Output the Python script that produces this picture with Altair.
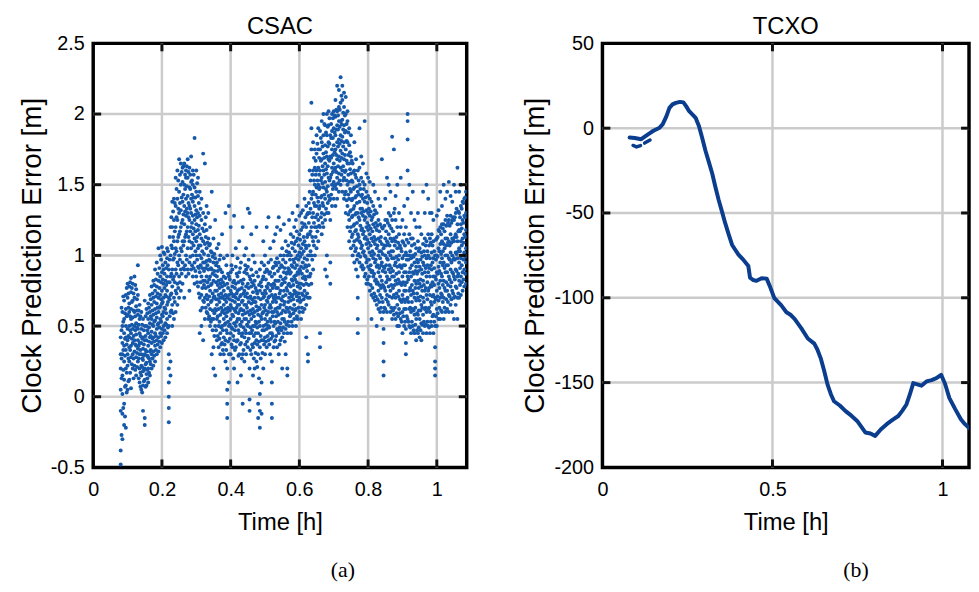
import altair as alt
import pandas as pd

# ---------------- data ----------------
# CSAC: each row = [time_h, error values observed at that time ...]
csac_rows = [
    [0.080, -0.48, -0.38, -0.10, 0.05, 0.20, 0.30, 0.42],
    [0.085, -0.30, -0.12, 0.02, 0.15, 0.30, 0.38, 0.50, 0.60],
    [0.090, -0.20, -0.05, 0.12, 0.25, 0.36, 0.45, 0.55, 0.68],
    [0.095, -0.22, 0.08, 0.20, 0.33, 0.42, 0.50, 0.62, 0.72],
    [0.100, 0.05, 0.22, 0.30, 0.40, 0.48, 0.58, 0.70, 0.80],
    [0.105, 0.12, 0.25, 0.35, 0.42, 0.50, 0.60, 0.66, 0.78],
    [0.110, 0.06, 0.28, 0.36, 0.45, 0.55, 0.62, 0.74, 0.84],
    [0.115, 0.20, 0.30, 0.38, 0.48, 0.56, 0.68, 0.80],
    [0.120, 0.22, 0.32, 0.40, 0.50, 0.60, 0.70, 0.85],
    [0.125, 0.15, 0.28, 0.36, 0.44, 0.52, 0.64, 0.76],
    [0.130, 0.25, 0.34, 0.40, 0.48, 0.58, 0.72, 0.93],
    [0.135, 0.10, 0.20, 0.30, 0.38, 0.45, 0.55, 0.65],
    [0.140, 0.05, 0.15, 0.22, 0.30, 0.38, 0.48, 0.60],
    [0.145, -0.10, 0.08, 0.18, 0.26, 0.34, 0.42, 0.55],
    [0.150, -0.20, -0.15, 0.12, 0.20, 0.30, 0.40, 0.50, 0.68],
    [0.155, 0.08, 0.16, 0.24, 0.32, 0.40, 0.50, 0.62],
    [0.160, 0.10, 0.20, 0.28, 0.36, 0.45, 0.55, 0.66],
    [0.165, 0.15, 0.25, 0.32, 0.42, 0.52, 0.60, 0.72],
    [0.170, 0.20, 0.30, 0.38, 0.46, 0.55, 0.65, 0.78],
    [0.175, 0.22, 0.32, 0.42, 0.50, 0.58, 0.70, 0.82],
    [0.180, 0.25, 0.36, 0.45, 0.54, 0.62, 0.75, 0.90],
    [0.185, 0.30, 0.40, 0.48, 0.56, 0.66, 0.78, 0.95],
    [0.190, 0.32, 0.42, 0.52, 0.60, 0.70, 0.82, 1.05],
    [0.195, 0.35, 0.45, 0.55, 0.64, 0.72, 0.85, 1.00],
    [0.200, 0.38, 0.48, 0.58, 0.66, 0.75, 0.88, 1.06],
    [0.205, 0.40, 0.50, 0.60, 0.70, 0.80, 0.90, 1.02],
    [0.210, 0.42, 0.52, 0.62, 0.72, 0.82, 0.95],
    [0.215, 0.45, 0.55, 0.65, 0.75, 0.85, 0.98, 1.05],
    [0.220, -0.18, -0.08, 0.00, 0.10, 0.20, 0.30, 0.50, 0.70, 0.90],
    [0.225, 0.15, 0.25, 0.60, 0.72, 0.85, 1.00, 1.20],
    [0.230, 0.50, 0.65, 0.78, 0.90, 1.05, 1.20, 1.38],
    [0.235, 0.55, 0.70, 0.85, 0.98, 1.10, 1.25, 1.40],
    [0.240, 0.60, 0.75, 0.90, 1.05, 1.20, 1.35, 1.55],
    [0.245, 0.65, 0.80, 0.95, 1.10, 1.25, 1.40, 1.60],
    [0.250, 0.70, 0.85, 1.00, 1.15, 1.30, 1.45, 1.68],
    [0.255, 0.75, 0.90, 1.05, 1.20, 1.32, 1.50, 1.65],
    [0.260, 0.80, 0.95, 1.10, 1.25, 1.38, 1.52, 1.62],
    [0.265, 0.70, 0.90, 1.10, 1.22, 1.35, 1.50, 1.65],
    [0.270, 0.85, 1.00, 1.15, 1.28, 1.40, 1.55, 1.60],
    [0.275, 0.90, 1.05, 1.20, 1.30, 1.42, 1.55, 1.68],
    [0.280, 0.75, 0.95, 1.10, 1.25, 1.35, 1.48, 1.62],
    [0.285, 0.90, 1.05, 1.20, 1.30, 1.40, 1.52, 1.70],
    [0.290, 0.85, 1.00, 1.15, 1.28, 1.38, 1.50, 1.60],
    [0.295, 0.80, 0.95, 1.12, 1.25, 1.35, 1.48, 1.83],
    [0.300, 0.85, 1.00, 1.10, 1.22, 1.32, 1.45, 1.60],
    [0.305, 0.78, 0.92, 1.05, 1.18, 1.30, 1.42, 1.55],
    [0.310, 0.45, 0.70, 0.88, 1.00, 1.15, 1.28, 1.45],
    [0.315, 0.50, 0.72, 0.85, 0.98, 1.12, 1.25, 1.40],
    [0.320, 0.40, 0.68, 0.82, 0.95, 1.10, 1.30, 1.72],
    [0.325, 0.55, 0.70, 0.82, 0.95, 1.08, 1.22, 1.65],
    [0.330, 0.60, 0.72, 0.85, 0.96, 1.05, 1.18, 1.35],
    [0.335, 0.55, 0.65, 0.78, 0.90, 1.00, 1.12, 1.30],
    [0.340, 0.50, 0.62, 0.75, 0.85, 0.96, 1.08, 1.20],
    [0.345, 0.30, 0.55, 0.68, 0.80, 0.90, 1.02, 1.45],
    [0.350, 0.20, 0.35, 0.55, 0.70, 0.82, 0.95, 1.12],
    [0.355, 0.15, 0.50, 0.62, 0.75, 0.86, 0.98, 1.25],
    [0.360, 0.40, 0.55, 0.65, 0.75, 0.85, 0.95, 1.05],
    [0.365, 0.35, 0.50, 0.62, 0.72, 0.82, 0.92, 1.08],
    [0.370, 0.30, 0.45, 0.58, 0.70, 0.80, 0.90, 1.00],
    [0.375, 0.38, 0.50, 0.60, 0.70, 0.78, 0.88, 1.15],
    [0.380, 0.30, 0.42, 0.55, 0.65, 0.75, 0.85, 0.98],
    [0.385, 0.25, 0.40, 0.52, 0.62, 0.72, 0.84, 1.30],
    [0.390, -0.15, -0.05, 0.05, 0.20, 0.45, 0.60, 0.70, 0.80, 1.00],
    [0.395, 0.10, 0.30, 0.50, 0.62, 0.72, 0.85, 1.35],
    [0.400, 0.30, 0.45, 0.55, 0.65, 0.75, 0.88, 1.20],
    [0.405, 0.35, 0.48, 0.58, 0.68, 0.78, 0.90, 1.00],
    [0.410, 0.20, 0.40, 0.52, 0.62, 0.72, 0.82, 1.28],
    [0.415, 0.35, 0.50, 0.60, 0.70, 0.80, 0.92, 1.05],
    [0.420, 0.10, 0.40, 0.55, 0.65, 0.75, 0.85, 0.98],
    [0.425, 0.30, 0.45, 0.55, 0.65, 0.76, 0.88, 1.10],
    [0.430, 0.15, 0.38, 0.50, 0.62, 0.72, 0.82, 0.95],
    [0.435, -0.05, 0.30, 0.45, 0.58, 0.68, 0.80, 1.20],
    [0.440, 0.25, 0.42, 0.55, 0.65, 0.75, 0.88, 1.00],
    [0.445, 0.30, 0.45, 0.55, 0.65, 0.78, 0.90, 1.05],
    [0.450, 0.35, 0.50, 0.60, 0.70, 0.80, 0.92, 1.33],
    [0.455, -0.10, -0.02, 0.20, 0.45, 0.58, 0.70, 0.85, 1.30],
    [0.460, 0.30, 0.45, 0.55, 0.66, 0.78, 0.90, 1.15],
    [0.465, 0.15, 0.35, 0.50, 0.62, 0.74, 0.86, 1.00],
    [0.470, 0.20, 0.38, 0.50, 0.60, 0.70, 0.82, 0.95],
    [0.475, 0.25, 0.40, 0.52, 0.64, 0.75, 0.88, 1.20],
    [0.480, -0.15, -0.05, 0.30, 0.45, 0.58, 0.70, 0.85],
    [0.485, -0.22, -0.10, 0.02, 0.35, 0.50, 0.62, 0.75, 0.90],
    [0.490, -0.12, 0.10, 0.40, 0.55, 0.65, 0.78, 0.95],
    [0.495, 0.20, 0.40, 0.50, 0.60, 0.70, 0.85, 1.10],
    [0.500, 0.30, 0.42, 0.55, 0.65, 0.75, 0.88, 1.00],
    [0.505, 0.35, 0.48, 0.58, 0.68, 0.78, 0.90, 1.20],
    [0.510, 0.40, 0.50, 0.60, 0.70, 0.80, 0.95, 1.27],
    [0.515, 0.30, 0.45, 0.55, 0.65, 0.75, 0.88, 1.05],
    [0.520, -0.15, -0.05, 0.10, 0.25, 0.45, 0.60, 0.72, 0.85],
    [0.525, 0.35, 0.50, 0.60, 0.70, 0.80, 0.92, 1.10],
    [0.530, 0.40, 0.52, 0.62, 0.72, 0.82, 0.95, 1.15],
    [0.535, 0.35, 0.48, 0.60, 0.70, 0.82, 0.98, 1.20],
    [0.540, 0.30, 0.45, 0.58, 0.70, 0.82, 0.95, 1.27],
    [0.545, 0.40, 0.52, 0.65, 0.75, 0.85, 1.00, 1.18],
    [0.550, 0.20, 0.42, 0.55, 0.68, 0.80, 0.92, 1.05],
    [0.555, 0.45, 0.55, 0.65, 0.75, 0.88, 1.00, 1.22],
    [0.560, 0.30, 0.48, 0.60, 0.72, 0.84, 0.95, 1.10],
    [0.565, 0.15, 0.20, 0.45, 0.62, 0.75, 0.88, 1.00],
    [0.570, 0.50, 0.60, 0.70, 0.80, 0.90, 1.02, 1.25],
    [0.575, 0.45, 0.58, 0.68, 0.78, 0.88, 1.00, 1.15],
    [0.580, 0.50, 0.62, 0.72, 0.82, 0.92, 1.05, 1.30],
    [0.585, 0.55, 0.65, 0.75, 0.85, 0.95, 1.08, 1.20],
    [0.590, 0.50, 0.62, 0.74, 0.86, 0.98, 1.10, 1.25],
    [0.595, 0.55, 0.68, 0.78, 0.88, 1.00, 1.12, 1.35],
    [0.600, 0.60, 0.70, 0.80, 0.90, 1.02, 1.15, 1.28],
    [0.605, 0.55, 0.68, 0.80, 0.92, 1.05, 1.18, 1.30],
    [0.610, 0.60, 0.72, 0.84, 0.95, 1.08, 1.20, 1.32],
    [0.615, 0.62, 0.75, 0.85, 0.98, 1.10, 1.22, 1.40],
    [0.620, 0.42, 0.65, 0.80, 0.92, 1.05, 1.20, 1.35],
    [0.625, 0.25, 0.30, 0.70, 0.85, 1.00, 1.15, 1.30],
    [0.630, 0.70, 0.85, 1.00, 1.15, 1.30, 1.45, 1.60],
    [0.635, 0.80, 1.00, 1.20, 1.40, 1.75, 1.90, 2.08],
    [0.640, 0.90, 1.10, 1.30, 1.45, 1.60, 1.80],
    [0.645, 1.00, 1.20, 1.35, 1.50, 1.62, 1.75],
    [0.650, 1.05, 1.20, 1.35, 1.48, 1.60, 1.72, 1.85],
    [0.655, 1.10, 1.25, 1.38, 1.50, 1.62, 1.75, 1.90],
    [0.660, 0.35, 0.45, 1.20, 1.35, 1.48, 1.60, 1.75, 1.88],
    [0.665, 1.15, 1.30, 1.42, 1.55, 1.68, 1.80, 1.95],
    [0.670, 1.20, 1.35, 1.48, 1.60, 1.72, 1.85, 2.00],
    [0.675, 0.90, 1.25, 1.40, 1.52, 1.65, 1.78, 1.92],
    [0.680, 0.85, 1.00, 1.30, 1.45, 1.58, 1.70, 1.85, 2.00],
    [0.685, 1.30, 1.42, 1.55, 1.68, 1.80, 1.92, 2.02],
    [0.690, 0.80, 0.95, 1.25, 1.40, 1.55, 1.70, 1.85],
    [0.695, 1.35, 1.50, 1.62, 1.75, 1.88, 2.00],
    [0.700, 1.40, 1.52, 1.65, 1.78, 1.90, 2.02],
    [0.705, 1.35, 1.50, 1.62, 1.75, 1.85, 1.98, 2.10],
    [0.710, 1.40, 1.55, 1.68, 1.80, 1.92, 2.02, 2.20],
    [0.715, 1.45, 1.58, 1.70, 1.82, 1.95, 2.05, 2.17],
    [0.720, 1.50, 1.62, 1.74, 1.85, 1.95, 2.08, 2.26],
    [0.725, 1.45, 1.60, 1.72, 1.84, 1.96, 2.10, 2.20],
    [0.730, 1.40, 1.55, 1.68, 1.80, 1.92, 2.05, 2.15],
    [0.735, 1.30, 1.45, 1.60, 1.75, 1.88, 2.00, 2.12],
    [0.740, 1.20, 1.35, 1.50, 1.65, 1.80, 1.95, 2.02],
    [0.745, 1.10, 1.25, 1.40, 1.52, 1.65, 1.78, 1.90],
    [0.750, 1.05, 1.20, 1.32, 1.45, 1.58, 1.70, 1.85],
    [0.755, 1.00, 1.15, 1.28, 1.40, 1.52, 1.65],
    [0.760, 0.95, 1.10, 1.22, 1.35, 1.48, 1.60, 1.80],
    [0.765, 0.90, 1.05, 1.18, 1.30, 1.42, 1.55, 1.68],
    [0.770, 0.45, 0.55, 0.70, 0.85, 1.00, 1.15, 1.30, 1.45, 1.60],
    [0.775, 0.95, 1.10, 1.25, 1.38, 1.50, 1.62, 1.90],
    [0.780, 0.92, 1.05, 1.18, 1.30, 1.42, 1.55, 1.70],
    [0.785, 0.90, 1.02, 1.15, 1.28, 1.40, 1.52, 1.65],
    [0.790, 0.85, 1.00, 1.12, 1.25, 1.38, 1.50, 1.95],
    [0.795, 0.80, 0.95, 1.08, 1.20, 1.32, 1.45, 1.58],
    [0.800, 0.80, 0.92, 1.05, 1.18, 1.30, 1.42, 1.55],
    [0.805, 0.75, 0.90, 1.02, 1.15, 1.28, 1.40, 1.52],
    [0.810, 0.55, 0.72, 0.88, 1.00, 1.12, 1.25, 1.38],
    [0.815, 0.70, 0.85, 0.98, 1.10, 1.22, 1.35, 1.50],
    [0.820, 0.68, 0.82, 0.95, 1.08, 1.20, 1.32, 1.45],
    [0.825, 0.50, 0.65, 0.80, 0.92, 1.05, 1.18, 1.30],
    [0.830, 0.62, 0.75, 0.88, 1.00, 1.12, 1.25, 1.40],
    [0.835, 0.60, 0.72, 0.85, 0.98, 1.10, 1.22, 1.35],
    [0.840, 0.55, 0.70, 0.82, 0.95, 1.08, 1.20, 1.68],
    [0.845, 0.15, 0.25, 0.38, 0.48, 0.60, 0.78, 0.92, 1.05],
    [0.850, 0.62, 0.75, 0.88, 1.00, 1.12, 1.25, 1.40],
    [0.855, 0.60, 0.72, 0.85, 0.98, 1.10, 1.25, 1.55],
    [0.860, 0.65, 0.78, 0.90, 1.02, 1.15, 1.30, 1.50],
    [0.865, 0.60, 0.75, 0.88, 1.00, 1.12, 1.28, 1.45],
    [0.870, 0.55, 0.70, 0.85, 0.98, 1.10, 1.25, 1.84],
    [0.875, 0.58, 0.72, 0.85, 0.98, 1.12, 1.30, 1.75],
    [0.880, 0.55, 0.70, 0.82, 0.95, 1.10, 1.25, 1.42],
    [0.885, 0.50, 0.65, 0.80, 0.92, 1.05, 1.20, 1.50],
    [0.890, 0.50, 0.62, 0.75, 0.88, 1.00, 1.15, 1.30],
    [0.895, 0.55, 0.68, 0.80, 0.92, 1.05, 1.20, 1.55],
    [0.900, 0.45, 0.60, 0.72, 0.85, 0.98, 1.10, 1.25],
    [0.905, 0.50, 0.62, 0.75, 0.88, 1.00, 1.15, 1.35],
    [0.910, 0.30, 0.38, 0.48, 0.62, 0.75, 0.88, 1.02, 1.20],
    [0.915, 0.55, 0.70, 0.85, 1.00, 1.40, 1.60, 1.82, 1.95, 2.00],
    [0.920, 0.50, 0.62, 0.75, 0.88, 1.00, 1.15, 1.50],
    [0.925, 0.45, 0.60, 0.72, 0.85, 0.98, 1.12, 1.30],
    [0.930, 0.50, 0.62, 0.75, 0.88, 1.00, 1.12, 1.45],
    [0.935, 0.45, 0.58, 0.70, 0.82, 0.95, 1.08, 1.25],
    [0.940, 0.40, 0.55, 0.68, 0.80, 0.92, 1.05, 1.20],
    [0.945, 0.45, 0.58, 0.70, 0.82, 0.95, 1.10, 1.30],
    [0.950, 0.42, 0.55, 0.68, 0.80, 0.92, 1.05, 1.20],
    [0.955, 0.40, 0.52, 0.65, 0.78, 0.90, 1.02, 1.15],
    [0.960, 0.45, 0.58, 0.70, 0.82, 0.95, 1.08, 1.45],
    [0.965, 0.50, 0.62, 0.75, 0.88, 1.00, 1.12, 1.30],
    [0.970, 0.45, 0.60, 0.72, 0.85, 0.98, 1.10, 1.50],
    [0.975, 0.50, 0.62, 0.75, 0.88, 1.00, 1.15, 1.40],
    [0.980, 0.45, 0.60, 0.72, 0.85, 0.98, 1.12, 1.30],
    [0.985, 0.50, 0.65, 0.78, 0.90, 1.02, 1.15, 1.30],
    [0.990, 0.45, 0.58, 0.72, 0.85, 0.98, 1.10, 1.25],
    [0.995, 0.15, 0.20, 0.25, 0.35, 0.50, 0.70, 0.85, 1.00],
    [1.000, 0.50, 0.62, 0.75, 0.88, 1.00, 1.12, 1.28],
    [1.005, 0.55, 0.68, 0.80, 0.92, 1.05, 1.18, 1.32],
    [1.010, 0.55, 0.70, 0.82, 0.95, 1.08, 1.20, 1.45],
    [1.015, 0.60, 0.72, 0.85, 0.98, 1.10, 1.22, 1.35],
    [1.020, 0.55, 0.70, 0.82, 0.95, 1.08, 1.22, 1.50],
    [1.025, 0.60, 0.75, 0.88, 1.00, 1.12, 1.25, 1.40],
    [1.030, 0.62, 0.75, 0.88, 1.00, 1.12, 1.28, 1.45],
    [1.035, 0.60, 0.72, 0.85, 0.98, 1.10, 1.25, 1.52],
    [1.040, 0.65, 0.78, 0.90, 1.02, 1.15, 1.28, 1.42],
    [1.045, 0.60, 0.75, 0.88, 1.00, 1.12, 1.25, 1.38],
    [1.050, 0.55, 0.70, 0.85, 0.98, 1.10, 1.25, 1.50],
    [1.055, 0.65, 0.78, 0.90, 1.02, 1.15, 1.30, 1.45],
    [1.060, 0.55, 0.70, 0.85, 0.98, 1.10, 1.22, 1.62],
    [1.065, 0.70, 0.82, 0.95, 1.05, 1.18, 1.30, 1.45],
    [1.070, 0.72, 0.85, 0.98, 1.10, 1.22, 1.35, 1.50],
    [1.075, 0.75, 0.88, 1.00, 1.12, 1.25, 1.38],
    [1.080, 0.78, 0.90, 1.02, 1.15, 1.28, 1.40],
    [1.085, 0.80, 0.95, 1.05, 1.18, 1.30, 1.45],
]

# CSAC: further samples read between the columns above
csac_rows_b = [
    [0.0825, -0.27, 0.13, 0.27, 0.47, 0.63], [0.0875, -0.08, 0.19, 0.33, 0.53, 0.71],
    [0.0925, -0.14, 0.07, 0.29, 0.41, 0.59], [0.0975, 0.03, 0.17, 0.37, 0.57, 0.77],
    [0.1025, 0.11, 0.27, 0.43, 0.63, 0.73], [0.1075, 0.17, 0.33, 0.47, 0.57, 0.81],
    [0.1125, 0.23, 0.41, 0.51, 0.67, 0.77], [0.1175, 0.13, 0.27, 0.43, 0.61, 0.73],
    [0.1225, 0.19, 0.37, 0.47, 0.57, 0.79], [0.1275, 0.21, 0.31, 0.49, 0.61, 0.69],
    [0.1325, 0.13, 0.27, 0.36, 0.51, 0.61], [0.1375, 0.07, 0.17, 0.33, 0.43, 0.57],
    [0.1425, 0.03, 0.21, 0.27, 0.41, 0.51], [0.1475, 0.11, 0.19, 0.29, 0.37, 0.47],
    [0.1525, 0.07, 0.23, 0.33, 0.43, 0.57], [0.1575, 0.13, 0.19, 0.29, 0.47, 0.59],
    [0.1625, 0.17, 0.27, 0.39, 0.49, 0.63], [0.1675, 0.23, 0.33, 0.43, 0.57, 0.69],
    [0.1725, 0.27, 0.41, 0.51, 0.61, 0.73], [0.1775, 0.29, 0.39, 0.53, 0.67, 0.79],
    [0.1825, 0.33, 0.43, 0.59, 0.71, 0.83], [0.1875, 0.37, 0.51, 0.63, 0.73, 0.87],
    [0.1925, 0.39, 0.49, 0.63, 0.77, 0.91], [0.1975, 0.43, 0.53, 0.69, 0.81, 0.97],
    [0.2025, 0.45, 0.57, 0.67, 0.83, 0.93], [0.2075, 0.47, 0.63, 0.77, 0.87, 1.01],
    [0.2125, 0.51, 0.59, 0.71, 0.79, 0.91], [0.2175, 0.49, 0.67, 0.81, 0.93, 1.03],
    [0.2225, 0.57, 0.69, 0.81, 0.97, 1.13], [0.2275, 0.61, 0.73, 0.87, 1.07, 1.27],
    [0.2325, 0.59, 0.83, 0.97, 1.13, 1.31], [0.2375, 0.67, 0.81, 1.01, 1.17, 1.37],
    [0.2425, 0.73, 0.87, 1.03, 1.27, 1.47], [0.2475, 0.77, 0.93, 1.13, 1.33, 1.53],
    [0.2525, 0.81, 0.97, 1.17, 1.37, 1.57], [0.2575, 0.87, 1.03, 1.23, 1.41, 1.59],
    [0.2625, 0.91, 1.07, 1.29, 1.43, 1.63], [0.2675, 0.93, 1.13, 1.31, 1.47, 1.57],
    [0.2725, 0.97, 1.17, 1.33, 1.49, 1.63], [0.2775, 0.87, 1.13, 1.27, 1.37, 1.59],
    [0.2825, 0.99, 1.17, 1.33, 1.47, 1.57], [0.2875, 0.93, 1.09, 1.23, 1.43, 1.53],
    [0.2925, 0.91, 1.07, 1.19, 1.41, 1.57], [0.2975, 0.89, 1.03, 1.17, 1.29, 1.41],
    [0.3025, 0.81, 0.97, 1.13, 1.27, 1.51], [0.3075, 0.73, 0.91, 1.07, 1.21, 1.37],
    [0.3125, 0.61, 0.81, 0.93, 1.07, 1.33], [0.3175, 0.63, 0.77, 0.91, 1.03, 1.19],
    [0.3225, 0.67, 0.79, 0.89, 1.01, 1.17], [0.3275, 0.63, 0.77, 0.91, 1.13, 1.27],
    [0.3325, 0.59, 0.69, 0.81, 0.93, 1.09], [0.3375, 0.57, 0.71, 0.83, 0.97, 1.07],
    [0.3425, 0.53, 0.67, 0.79, 0.91, 1.03], [0.3475, 0.47, 0.61, 0.73, 0.87, 0.99],
    [0.3525, 0.43, 0.59, 0.71, 0.89, 1.01], [0.3575, 0.47, 0.61, 0.69, 0.81, 0.93],
    [0.3625, 0.43, 0.57, 0.69, 0.79, 0.89], [0.3675, 0.41, 0.53, 0.67, 0.77, 0.97],
    [0.3725, 0.37, 0.49, 0.63, 0.73, 0.83], [0.3775, 0.33, 0.47, 0.61, 0.71, 0.81],
    [0.3825, 0.37, 0.51, 0.59, 0.69, 0.79], [0.3875, 0.33, 0.47, 0.57, 0.67, 0.93],
    [0.3925, 0.39, 0.53, 0.63, 0.77, 0.87], [0.3975, 0.41, 0.51, 0.61, 0.69, 0.83],
    [0.4025, 0.37, 0.49, 0.63, 0.73, 0.93], [0.4075, 0.27, 0.43, 0.57, 0.71, 0.81],
    [0.4125, 0.33, 0.47, 0.61, 0.67, 0.77], [0.4175, 0.39, 0.53, 0.63, 0.73, 0.87],
    [0.4225, 0.29, 0.47, 0.59, 0.69, 0.81], [0.4275, 0.37, 0.51, 0.61, 0.71, 0.91],
    [0.4325, 0.27, 0.43, 0.53, 0.67, 0.77], [0.4375, 0.33, 0.49, 0.61, 0.73, 0.83],
    [0.4425, 0.37, 0.47, 0.59, 0.71, 0.93], [0.4475, 0.39, 0.51, 0.63, 0.73, 0.87],
    [0.4525, 0.41, 0.53, 0.67, 0.77, 0.97], [0.4575, 0.33, 0.49, 0.61, 0.71, 0.83],
    [0.4625, 0.37, 0.47, 0.59, 0.69, 0.81], [0.4675, 0.27, 0.43, 0.57, 0.67, 0.79],
    [0.4725, 0.31, 0.45, 0.53, 0.67, 0.77], [0.4775, 0.21, 0.37, 0.49, 0.61, 0.73],
    [0.4825, 0.13, 0.39, 0.53, 0.63, 0.79], [0.4875, 0.27, 0.43, 0.57, 0.69, 0.81],
    [0.4925, 0.31, 0.47, 0.59, 0.73, 0.83], [0.4975, 0.37, 0.47, 0.63, 0.71, 0.93],
    [0.5025, 0.39, 0.51, 0.61, 0.73, 0.83], [0.5075, 0.43, 0.53, 0.67, 0.77, 0.89],
    [0.5125, 0.37, 0.49, 0.63, 0.71, 0.87], [0.5175, 0.41, 0.53, 0.63, 0.79, 0.97],
    [0.5225, 0.43, 0.57, 0.67, 0.77, 0.91], [0.5275, 0.39, 0.53, 0.69, 0.79, 0.87],
    [0.5325, 0.43, 0.57, 0.67, 0.77, 0.93], [0.5375, 0.47, 0.53, 0.63, 0.77, 0.89],
    [0.5425, 0.37, 0.49, 0.63, 0.73, 0.91], [0.5475, 0.47, 0.59, 0.69, 0.79, 0.93],
    [0.5525, 0.49, 0.61, 0.71, 0.83, 0.97], [0.5575, 0.39, 0.53, 0.67, 0.81, 0.91],
    [0.5625, 0.51, 0.63, 0.77, 0.87, 1.03], [0.5675, 0.53, 0.67, 0.79, 0.91, 1.07],
    [0.5725, 0.57, 0.63, 0.73, 0.87, 0.97], [0.5775, 0.53, 0.71, 0.83, 0.93, 1.09],
    [0.5825, 0.59, 0.69, 0.79, 0.97, 1.13], [0.5875, 0.61, 0.73, 0.83, 0.91, 1.03],
    [0.5925, 0.57, 0.71, 0.81, 0.93, 1.17], [0.5975, 0.63, 0.73, 0.87, 0.97, 1.07],
    [0.6025, 0.67, 0.77, 0.89, 0.99, 1.11], [0.6075, 0.63, 0.73, 0.87, 1.01, 1.23],
    [0.6125, 0.69, 0.79, 0.91, 1.03, 1.13], [0.6175, 0.71, 0.83, 0.93, 1.07, 1.27],
    [0.6225, 0.73, 0.89, 0.97, 1.13, 1.29], [0.6275, 0.79, 0.93, 1.07, 1.23, 1.37],
    [0.6325, 0.87, 1.03, 1.17, 1.33, 1.53], [0.6375, 0.97, 1.13, 1.27, 1.43, 1.57],
    [0.6425, 1.07, 1.23, 1.37, 1.53, 1.69], [0.6475, 1.13, 1.27, 1.43, 1.57, 1.67],
    [0.6525, 1.17, 1.29, 1.41, 1.53, 1.79], [0.6575, 1.21, 1.33, 1.47, 1.57, 1.69],
    [0.6625, 1.27, 1.41, 1.53, 1.67, 1.83], [0.6675, 1.23, 1.37, 1.51, 1.63, 1.77],
    [0.6725, 1.29, 1.43, 1.57, 1.69, 1.93], [0.6775, 1.33, 1.47, 1.61, 1.73, 1.87],
    [0.6825, 1.37, 1.49, 1.63, 1.77, 1.91], [0.6875, 1.39, 1.53, 1.67, 1.79, 1.97],
    [0.6925, 1.43, 1.57, 1.69, 1.83, 1.93], [0.6975, 1.47, 1.59, 1.71, 1.83, 1.97],
    [0.7025, 1.49, 1.61, 1.73, 1.87, 1.99], [0.7075, 1.47, 1.59, 1.71, 1.89, 2.03],
    [0.7125, 1.51, 1.63, 1.77, 1.89, 1.99], [0.7175, 1.53, 1.67, 1.79, 1.91, 2.03],
    [0.7225, 1.57, 1.69, 1.81, 1.93, 2.13], [0.7275, 1.53, 1.63, 1.77, 1.89, 2.01],
    [0.7325, 1.43, 1.59, 1.71, 1.87, 1.99], [0.7375, 1.39, 1.53, 1.67, 1.81, 1.93],
    [0.7425, 1.29, 1.43, 1.57, 1.71, 1.87], [0.7475, 1.17, 1.31, 1.47, 1.61, 1.73],
    [0.7525, 1.13, 1.27, 1.39, 1.53, 1.67], [0.7575, 1.07, 1.21, 1.33, 1.47, 1.59],
    [0.7625, 1.03, 1.17, 1.29, 1.41, 1.57], [0.7675, 0.97, 1.11, 1.23, 1.37, 1.49],
    [0.7725, 1.01, 1.13, 1.27, 1.43, 1.53], [0.7775, 0.99, 1.09, 1.21, 1.33, 1.47],
    [0.7825, 0.93, 1.07, 1.19, 1.33, 1.43], [0.7875, 0.91, 1.03, 1.17, 1.31, 1.47],
    [0.7925, 0.87, 0.99, 1.13, 1.27, 1.41], [0.7975, 0.83, 0.97, 1.11, 1.23, 1.37],
    [0.8025, 0.85, 0.97, 1.09, 1.21, 1.33], [0.8075, 0.79, 0.93, 1.07, 1.19, 1.31],
    [0.8125, 0.77, 0.89, 1.03, 1.17, 1.27], [0.8175, 0.73, 0.87, 1.01, 1.13, 1.29],
    [0.8225, 0.71, 0.83, 0.97, 1.11, 1.23], [0.8275, 0.69, 0.81, 0.93, 1.07, 1.21],
    [0.8325, 0.67, 0.79, 0.91, 1.03, 1.17], [0.8375, 0.63, 0.77, 0.93, 1.03, 1.13],
    [0.8425, 0.67, 0.79, 0.89, 1.01, 1.19], [0.8475, 0.63, 0.77, 0.91, 1.07, 1.21],
    [0.8525, 0.69, 0.81, 0.93, 1.07, 1.17], [0.8575, 0.67, 0.83, 0.97, 1.09, 1.23],
    [0.8625, 0.71, 0.83, 0.93, 1.07, 1.21], [0.8675, 0.63, 0.79, 0.91, 1.03, 1.19],
    [0.8725, 0.61, 0.77, 0.89, 1.03, 1.17], [0.8775, 0.63, 0.79, 0.93, 1.07, 1.33],
    [0.8825, 0.59, 0.73, 0.87, 0.99, 1.13], [0.8875, 0.57, 0.71, 0.83, 0.97, 1.09],
    [0.8925, 0.59, 0.69, 0.81, 0.93, 1.07], [0.8975, 0.53, 0.67, 0.79, 0.91, 1.03],
    [0.9025, 0.57, 0.69, 0.81, 0.93, 1.09], [0.9075, 0.53, 0.67, 0.79, 0.93, 1.07],
    [0.9125, 0.57, 0.69, 0.81, 0.97, 1.11], [0.9175, 0.53, 0.67, 0.83, 0.97, 1.09],
    [0.9225, 0.49, 0.63, 0.77, 0.91, 1.03], [0.9275, 0.53, 0.67, 0.79, 0.93, 1.07],
    [0.9325, 0.47, 0.61, 0.73, 0.87, 0.99], [0.9375, 0.51, 0.63, 0.77, 0.89, 1.01],
    [0.9425, 0.47, 0.59, 0.73, 0.87, 0.97], [0.9475, 0.49, 0.61, 0.77, 0.89, 1.03],
    [0.9525, 0.47, 0.61, 0.71, 0.83, 0.97], [0.9575, 0.51, 0.63, 0.75, 0.87, 0.99],
    [0.9625, 0.53, 0.67, 0.79, 0.93, 1.03], [0.9675, 0.51, 0.63, 0.77, 0.91, 1.07],
    [0.9725, 0.53, 0.69, 0.81, 0.93, 1.03], [0.9775, 0.49, 0.63, 0.77, 0.91, 1.07],
    [0.9825, 0.53, 0.67, 0.79, 0.93, 1.09], [0.9875, 0.57, 0.71, 0.81, 0.95, 1.07],
    [0.9925, 0.53, 0.67, 0.79, 0.91, 1.03], [0.9975, 0.57, 0.69, 0.83, 0.97, 1.11],
    [1.0025, 0.59, 0.71, 0.87, 0.99, 1.13], [1.0075, 0.63, 0.77, 0.89, 1.03, 1.17],
    [1.0125, 0.61, 0.73, 0.87, 1.01, 1.15], [1.0175, 0.67, 0.79, 0.93, 1.03, 1.19],
    [1.0225, 0.63, 0.77, 0.91, 1.05, 1.17], [1.0275, 0.69, 0.81, 0.93, 1.07, 1.21],
    [1.0325, 0.67, 0.79, 0.93, 1.09, 1.23], [1.0375, 0.71, 0.83, 0.97, 1.07, 1.21],
    [1.0425, 0.69, 0.81, 0.95, 1.09, 1.23], [1.0475, 0.73, 0.87, 0.97, 1.11, 1.27],
    [1.0525, 0.71, 0.83, 0.97, 1.13, 1.27], [1.0575, 0.77, 0.89, 1.01, 1.13, 1.33],
    [1.0625, 0.73, 0.87, 1.03, 1.17, 1.31], [1.0675, 0.79, 0.91, 1.03, 1.17, 1.27],
    [1.0725, 0.81, 0.93, 1.07, 1.19, 1.33], [1.0775, 0.83, 0.97, 1.09, 1.23, 1.37],
    [1.0825, 0.87, 0.99, 1.13, 1.27, 1.41],
]

# TCXO main trace
tcxo_t = [0.080, 0.095, 0.114, 0.134, 0.150, 0.168, 0.177, 0.188, 0.197, 0.206,
          0.216, 0.228, 0.238, 0.246, 0.255, 0.265, 0.274, 0.284, 0.293, 0.303,
          0.313, 0.323, 0.332, 0.342, 0.352, 0.361, 0.371, 0.381, 0.390, 0.400,
          0.414, 0.429, 0.434, 0.443, 0.453, 0.468, 0.483, 0.492, 0.505, 0.526,
          0.541, 0.553, 0.565, 0.585, 0.604, 0.623, 0.632, 0.642, 0.652, 0.662,
          0.672, 0.681, 0.698, 0.715, 0.732, 0.749, 0.761, 0.773, 0.788, 0.802,
          0.819, 0.836, 0.853, 0.870, 0.882, 0.894, 0.904, 0.914, 0.926, 0.938,
          0.953, 0.968, 0.982, 0.996, 1.008, 1.020, 1.037, 1.054, 1.066, 1.085]
tcxo_v = [-5.5, -5.8, -6.5, -3.6, -1.5, 0.3, 2.2, 7.0, 12.0, 14.0,
          14.9, 15.5, 15.2, 13.0, 10.0, 8.0, 6.1, 1.2, -5.5, -13.3,
          -20.0, -26.9, -34.5, -42.5, -49.5, -56.0, -62.5, -68.7, -71.5, -74.5,
          -77.5, -81.3, -88.1, -89.5, -90.0, -88.5, -88.7, -93.0, -100.0, -104.5,
          -108.5, -110.0, -112.4, -118.0, -124.0, -127.0, -130.5, -135.7, -143.0, -151.2,
          -157.0, -161.0, -163.5, -166.8, -169.5, -172.6, -176.0, -179.4, -180.0, -181.4,
          -177.5, -174.5, -172.0, -169.7, -166.5, -162.9, -157.0, -150.3, -151.0, -151.8,
          -149.3, -148.5, -147.4, -145.4, -151.0, -159.0, -165.5, -171.6, -174.5, -178.0]
# TCXO short detached pieces below the start of the trace
tcxo_b_t = [0.090, 0.100, 0.112, 0.124, 0.140]
tcxo_b_v = [-10.2, -11.0, -10.3, -8.8, -7.0]
tcxo_b_seg = [1, 1, 1, 2, 2]

csac_x_dom = [0, 1.087]
csac_y_dom = [-0.5, 2.5]
tcxo_x_dom = [0, 1.078]
tcxo_y_dom = [-200, 50]
csac_x_ticks = [0, 0.2, 0.4, 0.6, 0.8, 1]
csac_y_ticks = [-0.5, 0, 0.5, 1, 1.5, 2, 2.5]
tcxo_x_ticks = [0, 0.5, 1]
tcxo_y_ticks = [-200, -150, -100, -50, 0, 50]
panel_titles = ["CSAC", "TCXO"]
captions = ["(a)", "(b)"]
x_title = "Time [h]"
y_title = "Clock Prediction Error [m]"

# ---------------- styling ----------------
FONT = "Liberation Sans"
DOT = "#1659ab"
LINE = "#0b3d8f"
GRID = "#cbcbcb"
H = 428
W1 = 377
W2 = 370
TICK_LEN = 8     # px
TICK_W = 3       # px
FRAME_W = 3.5    # px
GRID_W = 2.5     # px


def x_axis(vals):
    return alt.Axis(values=vals, title=x_title, labelExpr="toString(datum.value)",
                    grid=False, ticks=False, domain=False, labelPadding=12,
                    titlePadding=12, labelFontSize=20, titleFontSize=24,
                    labelFont=FONT, titleFont=FONT, labelColor="black",
                    titleColor="black", titleFontWeight="normal",
                    labelFlush=False, labelOverlap=False)


def y_axis(vals):
    return alt.Axis(values=vals, title=y_title, labelExpr="toString(datum.value)",
                    grid=False, ticks=False, domain=False, labelPadding=9,
                    titlePadding=4, labelFontSize=20, titleFontSize=28,
                    labelFont=FONT, titleFont=FONT, labelColor="black",
                    titleColor="black", titleFontWeight="normal",
                    labelFlush=False, labelOverlap=False)


def rect_layer(rows, color, xs, ys, xa, ya):
    df = pd.DataFrame(rows, columns=["a", "b", "c", "d"])
    return alt.Chart(df).mark_rect(color=color, opacity=1).encode(
        x=alt.X("a:Q", scale=xs, axis=xa), x2="b:Q",
        y=alt.Y("c:Q", scale=ys, axis=ya), y2="d:Q")


def grid_layer(xs, ys, xa, ya, xvals, yvals, xdom, ydom, w):
    """Grid lines at the inner tick values, as thin filled rectangles."""
    ux = (xdom[1] - xdom[0]) / w
    uy = (ydom[1] - ydom[0]) / H
    hg = GRID_W / 2
    rows = []
    for t in xvals:
        if xdom[0] < t < xdom[1]:
            rows.append((t - hg * ux, t + hg * ux, ydom[0], ydom[1]))
    for v in yvals:
        if ydom[0] < v < ydom[1]:
            rows.append((xdom[0], xdom[1], v - hg * uy, v + hg * uy))
    return rect_layer(rows, GRID, xs, ys, xa, ya)


def tick_layer(xs, ys, xa, ya, xvals, yvals, xdom, ydom, w):
    """Short inward ticks on all four sides of the box."""
    ux = (xdom[1] - xdom[0]) / w
    uy = (ydom[1] - ydom[0]) / H
    ht = TICK_W / 2
    x0, x1, y0, y1 = xdom[0], xdom[1], ydom[0], ydom[1]
    rows = []
    for t in xvals:
        if x0 < t < x1:
            rows.append((t - ht * ux, t + ht * ux, y1 - TICK_LEN * uy, y1))
            rows.append((t - ht * ux, t + ht * ux, y0, y0 + TICK_LEN * uy))
    for v in yvals:
        if y0 < v < y1:
            rows.append((x0, x0 + TICK_LEN * ux, v - ht * uy, v + ht * uy))
            rows.append((x1 - TICK_LEN * ux, x1, v - ht * uy, v + ht * uy))
    return rect_layer(rows, "#111111", xs, ys, xa, ya)


def caption(text, x):
    return alt.Chart(pd.DataFrame({"c": [text]})).mark_text(
        font="Liberation Serif", fontSize=22, color="black").encode(
        text="c:N", x=alt.value(x), y=alt.value(532))


def title(text):
    return alt.TitleParams(text, font=FONT, fontSize=24, fontWeight="normal",
                           color="black", offset=-6, anchor="middle",
                           frame="group")


# ---------------- panel (a) ----------------
csac_df = pd.DataFrame([{"t": r[0], "v": y} for r in csac_rows + csac_rows_b
                        for y in r[1:]])
xs1 = alt.Scale(domain=csac_x_dom, nice=False, zero=False)
ys1 = alt.Scale(domain=csac_y_dom, nice=False, zero=False)
xa1 = x_axis(csac_x_ticks)
ya1 = y_axis(csac_y_ticks)

pts = alt.Chart(csac_df).mark_circle(size=16, color=DOT, opacity=1, clip=True).encode(
    x=alt.X("t:Q", scale=xs1, axis=xa1),
    y=alt.Y("v:Q", scale=ys1, axis=ya1),
)
left = alt.layer(
    grid_layer(xs1, ys1, xa1, ya1, csac_x_ticks, csac_y_ticks, csac_x_dom, csac_y_dom, W1),
    pts,
    tick_layer(xs1, ys1, xa1, ya1, csac_x_ticks, csac_y_ticks, csac_x_dom, csac_y_dom, W1),
    caption(captions[0], 252),
).properties(width=W1, height=H, title=title(panel_titles[0]))

# ---------------- panel (b) ----------------
tcxo_df = pd.DataFrame({"t": tcxo_t, "v": tcxo_v})
tcxo_b_df = pd.DataFrame({"t": tcxo_b_t, "v": tcxo_b_v, "seg": tcxo_b_seg})
xs2 = alt.Scale(domain=tcxo_x_dom, nice=False, zero=False)
ys2 = alt.Scale(domain=tcxo_y_dom, nice=False, zero=False)
xa2 = x_axis(tcxo_x_ticks)
ya2 = y_axis(tcxo_y_ticks)

line = alt.Chart(tcxo_df).mark_line(color=LINE, strokeWidth=4, clip=True,
                                    strokeJoin="round", strokeCap="round").encode(
    x=alt.X("t:Q", scale=xs2, axis=xa2),
    y=alt.Y("v:Q", scale=ys2, axis=ya2),
)
line_b = alt.Chart(tcxo_b_df).mark_line(color=LINE, strokeWidth=3.5,
                                        strokeCap="round").encode(
    x=alt.X("t:Q", scale=xs2, axis=xa2),
    y=alt.Y("v:Q", scale=ys2, axis=ya2),
    detail="seg:N",
)
right = alt.layer(
    grid_layer(xs2, ys2, xa2, ya2, tcxo_x_ticks, tcxo_y_ticks, tcxo_x_dom, tcxo_y_dom, W2),
    line, line_b,
    tick_layer(xs2, ys2, xa2, ya2, tcxo_x_ticks, tcxo_y_ticks, tcxo_x_dom, tcxo_y_dom, W2),
    caption(captions[1], 256),
).properties(width=W2, height=H, title=title(panel_titles[1]))

# the black box around each plot is the view outline
chart = alt.hconcat(left, right, spacing=52).configure(
    padding={"left": 8, "top": 3, "right": 0, "bottom": 0},
    background="white",
).configure_view(stroke="#000000", strokeWidth=FRAME_W)

chart.save("out.html", embed_options={"renderer": "svg", "actions": False})
